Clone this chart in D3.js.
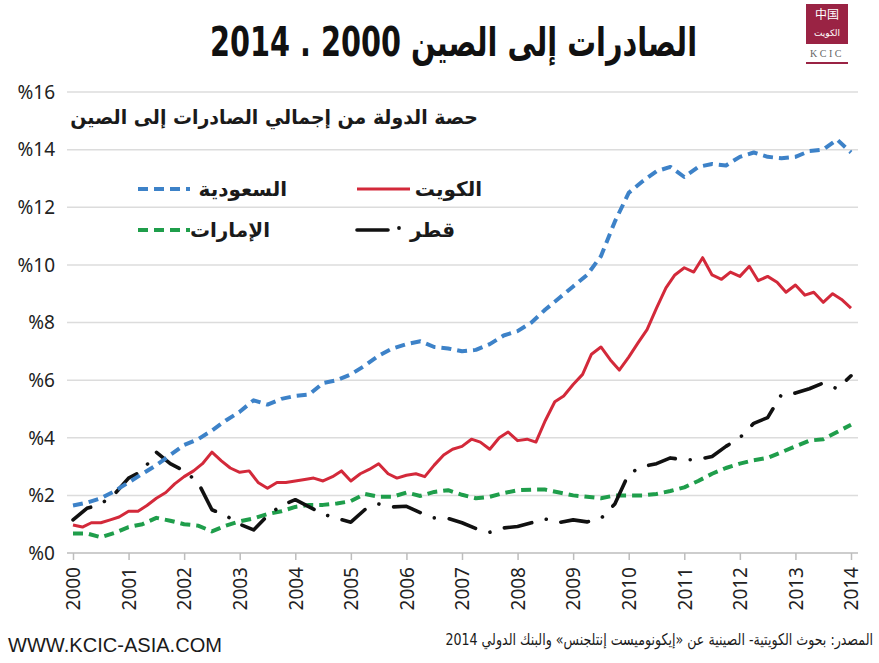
<!DOCTYPE html>
<html><head><meta charset="utf-8">
<script src="https://cdn.jsdelivr.net/npm/d3@7"></script>
<style>
html,body{margin:0;padding:0;background:#fff;}
svg{display:block;}
</style></head>
<body>
<svg id="chart" width="879" height="663"></svg>
<script>
// ---------- data ----------
const yearTicks = [2000,2001,2002,2003,2004,2005,2006,2007,2008,2009,2010,2011,2012,2013,2014];
const pctTicks = [0,2,4,6,8,10,12,14,16];

const quarters = [2000,2000.25,2000.5,2000.75,2001,2001.25,2001.5,2001.75,2002,2002.25,2002.5,2002.75,
 2003,2003.25,2003.5,2003.75,2004,2004.25,2004.5,2004.75,2005,2005.25,2005.5,2005.75,
 2006,2006.25,2006.5,2006.75,2007,2007.25,2007.5,2007.75,2008,2008.25,2008.5,2008.75,
 2009,2009.25,2009.5,2009.75,2010,2010.25,2010.5,2010.75,2011,2011.25,2011.5,2011.75,
 2012,2012.25,2012.5,2012.75,2013,2013.25,2013.5,2013.75,2014];

const saudi = [1.65,1.75,1.9,2.15,2.45,2.75,3.05,3.4,3.75,3.95,4.25,4.6,
 4.9,5.3,5.15,5.35,5.45,5.5,5.9,6.0,6.2,6.5,6.85,7.1,
 7.25,7.35,7.15,7.1,7.0,7.05,7.25,7.55,7.7,8.0,8.45,8.85,
 9.25,9.65,10.3,11.5,12.5,12.9,13.25,13.4,13.05,13.4,13.5,13.45,
 13.75,13.9,13.75,13.7,13.75,13.95,14.0,14.35,13.9];

const uae = [0.68,0.68,0.55,0.7,0.9,1.0,1.22,1.12,1.0,0.95,0.75,0.95,
 1.1,1.2,1.35,1.45,1.6,1.67,1.67,1.72,1.8,2.05,1.95,1.95,
 2.1,1.98,2.12,2.18,2.02,1.9,1.95,2.08,2.18,2.2,2.2,2.1,
 2.0,1.95,1.9,2.0,2.0,2.0,2.05,2.15,2.28,2.5,2.75,2.95,
 3.1,3.22,3.3,3.5,3.7,3.9,3.95,4.2,4.45];

const qatar = [1.15,1.55,1.7,2.05,2.6,2.85,3.5,3.1,2.85,2.45,1.5,1.3,
 1.0,0.8,1.3,1.65,1.85,1.6,1.35,1.2,1.07,1.5,1.7,1.6,
 1.62,1.4,1.22,1.2,1.05,0.85,0.72,0.87,0.92,1.05,1.18,1.06,
 1.15,1.08,1.2,1.7,2.75,3.0,3.1,3.3,3.23,3.25,3.35,3.7,
 4.0,4.5,4.7,5.5,5.55,5.7,5.9,5.7,6.15];

const bimonths = [2000,2000.17,2000.33,2000.5,2000.67,2000.83,2001,2001.17,2001.33,2001.5,2001.67,2001.83,
 2002,2002.17,2002.33,2002.5,2002.67,2002.83,2003,2003.17,2003.33,2003.5,2003.67,2003.83,
 2004,2004.17,2004.33,2004.5,2004.67,2004.83,2005,2005.17,2005.33,2005.5,2005.67,2005.83,
 2006,2006.17,2006.33,2006.5,2006.67,2006.83,2007,2007.17,2007.33,2007.5,2007.67,2007.83,
 2008,2008.17,2008.33,2008.5,2008.67,2008.83,2009,2009.17,2009.33,2009.5,2009.67,2009.83,
 2010,2010.17,2010.33,2010.5,2010.67,2010.83,2011,2011.17,2011.33,2011.5,2011.67,2011.83,
 2012,2012.17,2012.33,2012.5,2012.67,2012.83,2013,2013.17,2013.33,2013.5,2013.67,2013.83,2014];

const kuwait = [0.97,0.9,1.05,1.05,1.15,1.25,1.45,1.45,1.65,1.9,2.1,2.4,
 2.65,2.85,3.1,3.5,3.2,2.95,2.8,2.85,2.45,2.25,2.45,2.45,
 2.5,2.55,2.6,2.5,2.65,2.85,2.5,2.75,2.9,3.1,2.75,2.6,
 2.7,2.75,2.65,3.05,3.4,3.6,3.7,3.95,3.85,3.6,4.0,4.2,
 3.9,3.95,3.85,4.6,5.25,5.45,5.85,6.2,6.9,7.15,6.7,6.35,
 6.8,7.3,7.75,8.5,9.2,9.65,9.9,9.75,10.25,9.65,9.5,9.75,
 9.6,9.95,9.45,9.6,9.4,9.05,9.3,8.95,9.05,8.7,9.0,8.8,8.5];

const seriesNames = {saudi:"السعودية", kuwait:"الكويت", uae:"الإمارات", qatar:"قطر"};
const colors = {saudi:"#3d82c8", kuwait:"#d3293a", uae:"#1f9e4b", qatar:"#111111"};

const titleText = "الصادرات إلى الصين 2000 . 2014";
const subtitleText = "حصة الدولة من إجمالي الصادرات إلى الصين";
const sourceText = "المصدر: بحوث الكويتية- الصينية عن «إيكونوميست إنتلجنس» والبنك الدولي 2014";
const siteText = "WWW.KCIC-ASIA.COM";

// ---------- drawing ----------
const svg = d3.select("#chart");
const AR = "'DejaVu Sans', 'Noto Sans', sans-serif";
const LAT = "'Noto Sans', 'Open Sans', sans-serif";

const x = d3.scaleLinear().domain([2000, 2014]).range([73, 851]);
const y = d3.scaleLinear().domain([0, 16]).range([553, 92]);

// helper: place RTL text so its right edge is at rx, horizontally squeezed to width w
function fitRtl(g, rx, by, w, attrs, txt) {
  const grp = g.append("g");
  const t = grp.append("text").attr("x", 0).attr("y", 0)
    .attr("direction", "rtl").attr("text-anchor", "start");
  Object.entries(attrs).forEach(([k, v]) => t.attr(k, v));
  t.text(txt);
  const len = t.node().getComputedTextLength();
  const s = Math.min(1, w / len);
  grp.attr("transform", `translate(${rx},${by}) scale(${s},1)`);
  return grp;
}

// gridlines
svg.append("g").selectAll("line").data(pctTicks.filter(d => d > 0)).join("line")
  .attr("x1", 67).attr("x2", 858)
  .attr("y1", d => y(d)).attr("y2", d => y(d))
  .attr("stroke", "#dcdcdc").attr("stroke-width", 1.5);

// y labels
svg.append("g").selectAll("text").data(pctTicks).join("text")
  .attr("x", 55).attr("y", d => y(d)).attr("dy", "0.36em")
  .attr("text-anchor", "end")
  .attr("font-family", LAT).attr("font-size", 19).attr("fill", "#222")
  .text(d => "%" + d);

// x axis
const xAxis = d3.axisBottom(x).tickValues(yearTicks).tickSize(7).tickFormat(d3.format("d"));
const gx = svg.append("g").attr("transform", `translate(0,${y(0)})`).call(xAxis);
gx.select(".domain").attr("stroke", "#bdbdbd").attr("stroke-width", 1.5).attr("d", `M67,0H858`);
gx.selectAll(".tick line").attr("stroke", "#bdbdbd").attr("stroke-width", 1.5);
gx.selectAll(".tick text")
  .attr("font-family", LAT).attr("font-size", 19).attr("fill", "#222")
  .attr("transform", "rotate(-90)")
  .attr("text-anchor", "end")
  .attr("x", -14).attr("y", 0).attr("dy", "0.36em");

// lines
const lineQ = d3.line().x((d, i) => x(quarters[i])).y(d => y(d));
const lineB = d3.line().x((d, i) => x(bimonths[i])).y(d => y(d));

svg.append("path").datum(uae).attr("d", lineQ)
  .attr("fill", "none").attr("stroke", colors.uae).attr("stroke-width", 4)
  .attr("stroke-dasharray", "10,6").attr("stroke-linejoin", "round");

svg.append("path").datum(qatar).attr("d", lineQ)
  .attr("fill", "none").attr("stroke", colors.qatar).attr("stroke-width", 3.6)
  .attr("stroke-linecap", "round").attr("stroke-linejoin", "round")
  .attr("stroke-dasharray", "28,15,0.01,15").attr("stroke-dashoffset", 6);

svg.append("path").datum(kuwait).attr("d", lineB)
  .attr("fill", "none").attr("stroke", colors.kuwait).attr("stroke-width", 3)
  .attr("stroke-linejoin", "round");

svg.append("path").datum(saudi).attr("d", lineQ)
  .attr("fill", "none").attr("stroke", colors.saudi).attr("stroke-width", 4)
  .attr("stroke-dasharray", "10,6").attr("stroke-linejoin", "round");

// subtitle
fitRtl(svg, 478, 124, 408,
  {"font-family":AR, "font-weight":"bold", "font-size":20, "fill":"#1a1a1a"},
  subtitleText);

// legend
const legend = [
  {key:"saudi", lx1:138, lx2:190, tx:287, yy:189, dash:"10,6", w:4},
  {key:"kuwait", lx1:357, lx2:410, tx:482, yy:189, dash:null, w:3.2},
  {key:"uae", lx1:138, lx2:190, tx:270, yy:230, dash:"10,6", w:4},
  {key:"qatar", lx1:357, lx2:388, tx:455, yy:230, dash:null, w:3.6}
];
const lg = svg.append("g");
legend.forEach(l => {
  lg.append("line").attr("x1", l.lx1).attr("x2", l.lx2).attr("y1", l.yy).attr("y2", l.yy)
    .attr("stroke", colors[l.key]).attr("stroke-width", l.w)
    .attr("stroke-dasharray", l.dash).attr("stroke-linecap", l.key === "qatar" ? "round" : "butt");
  if (l.key === "qatar") {
    lg.append("circle").attr("cx", 399).attr("cy", l.yy - 2).attr("r", 1.9).attr("fill", colors.qatar);
  }
  lg.append("text").attr("x", l.tx).attr("y", l.yy + 7)
    .attr("direction", "rtl").attr("text-anchor", "start")
    .attr("font-family", AR).attr("font-weight", "bold").attr("font-size", 20).attr("fill", "#1a1a1a")
    .text(seriesNames[l.key]);
});

// title
svg.append("text").attr("x", 697).attr("y", 56)
  .attr("direction", "rtl").attr("text-anchor", "start")
  .attr("font-family", AR).attr("font-weight", "bold").attr("font-size", 40).attr("fill", "#111")
  .attr("textLength", 487).attr("lengthAdjust", "spacingAndGlyphs")
  .text(titleText);

// logo
const logo = svg.append("g");
logo.append("rect").attr("x", 806).attr("y", 4).attr("width", 42).attr("height", 40).attr("fill", "#9a2344");
logo.append("text").attr("x", 827).attr("y", 19).attr("text-anchor", "middle")
  .attr("font-family", "'Noto Sans CJK SC', sans-serif").attr("font-size", 12).attr("fill", "#fff").text("中国");
logo.append("text").attr("x", 827).attr("y", 36).attr("text-anchor", "middle")
  .attr("font-family", AR).attr("font-size", 9).attr("fill", "#fff").text("الكويت");
logo.append("text").attr("x", 827).attr("y", 57).attr("text-anchor", "middle")
  .attr("font-family", "'Liberation Serif', serif").attr("font-size", 10).attr("letter-spacing", 2.5).attr("fill", "#666").text("KCIC");
logo.append("rect").attr("x", 806).attr("y", 62).attr("width", 42).attr("height", 2).attr("fill", "#9a2344");

// footer
svg.append("text").attr("x", 8).attr("y", 652)
  .attr("font-family", "'Liberation Sans Narrow', 'Liberation Sans', sans-serif").attr("font-size", 20).attr("fill", "#1a1a1a")
  .attr("textLength", 214).attr("lengthAdjust", "spacingAndGlyphs")
  .text(siteText);

fitRtl(svg, 873, 645, 428,
  {"font-family":AR, "font-size":16, "fill":"#1a1a1a"},
  sourceText);
</script>
</body></html>
